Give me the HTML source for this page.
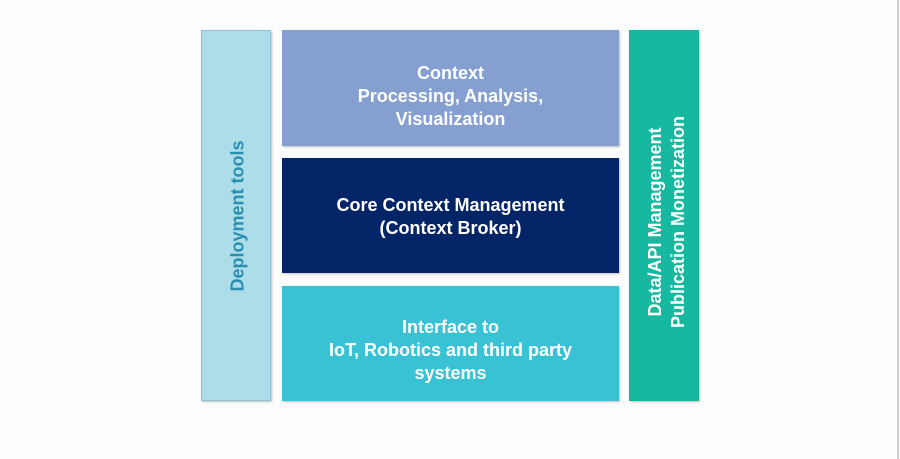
<!DOCTYPE html>
<html><head><style>
html,body{margin:0;padding:0;}
body{width:900px;height:459px;background:#fdfdfd;position:relative;overflow:hidden;font-family:"Liberation Sans",sans-serif;font-weight:bold;}
.b{position:absolute;box-sizing:border-box;box-shadow:1px 1px 2px rgba(0,0,0,0.25);display:flex;align-items:center;justify-content:center;text-align:center;color:#fff;font-size:18px;line-height:23px;}
.v{position:absolute;white-space:nowrap;transform:translate(-50%,-50%) rotate(-90deg);font-size:18px;line-height:23px;text-align:center;}
</style></head><body>
<div class="b" style="left:201px;top:30px;width:70px;height:371px;background:#addde9;border:1px solid #8fc4d8;"></div>
<div class="v" style="left:238px;top:216px;color:#2a8fae;">Deployment tools</div>
<div class="b" style="left:282px;top:30px;width:337px;height:116px;background:#859fd1;padding-top:16px;">Context<br>Processing, Analysis,<br>Visualization</div>
<div class="b" style="left:282px;top:158px;width:337px;height:115px;background:#032567;padding-top:2px;">Core Context Management<br>(Context Broker)</div>
<div class="b" style="left:282px;top:286px;width:337px;height:115px;background:#38c2d3;padding-top:14px;">Interface to<br>IoT, Robotics and third party<br>systems</div>
<div class="b" style="left:629px;top:30px;width:70px;height:371px;background:#17b8a0;"></div>
<div class="v" style="left:667px;top:222px;color:#fff;">Data/API Management<br>Publication Monetization</div>
<div style="position:absolute;left:897px;top:0;width:2px;height:459px;background:#d0d0d0;"></div>
</body></html>
